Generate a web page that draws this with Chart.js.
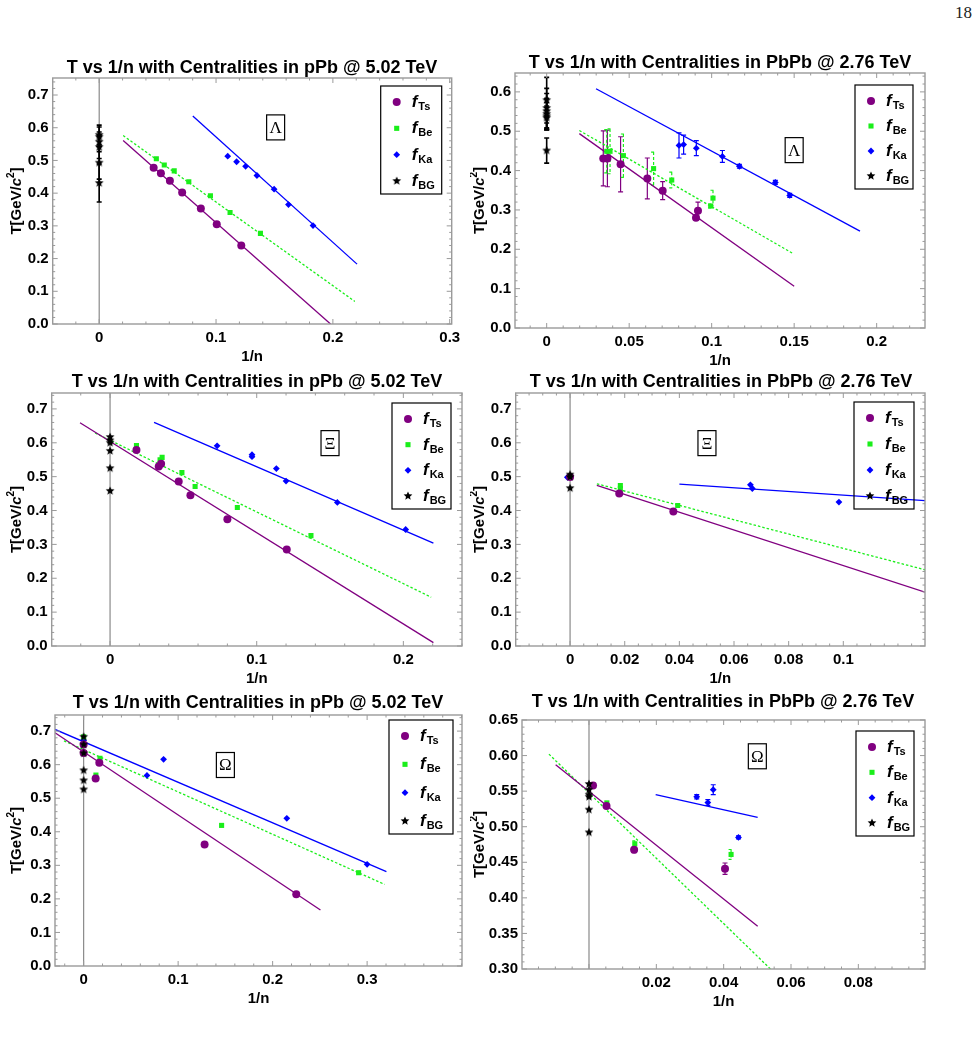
<!DOCTYPE html>
<html>
<head>
<meta charset="utf-8">
<script src="https://cdn.jsdelivr.net/npm/chart.js@4.4.1/dist/chart.umd.min.js"></script>
<style>
  body { margin: 0; background: #fff; width: 980px; height: 1040px; position: relative; overflow: hidden; }
  .cell { position: absolute; }
  #pg { position: absolute; left: 955px; top: 3px; font: 17px "Liberation Serif", "DejaVu Serif", serif; color: #222; }
</style>
</head>
<body>
<div id="pg">18</div>
<div class="cell" style="left:0px;top:40px;width:470px;height:326px"><canvas id="c1"></canvas></div>
<div class="cell" style="left:470px;top:40px;width:510px;height:326px"><canvas id="c2"></canvas></div>
<div class="cell" style="left:0px;top:366px;width:470px;height:324px"><canvas id="c3"></canvas></div>
<div class="cell" style="left:470px;top:366px;width:510px;height:324px"><canvas id="c4"></canvas></div>
<div class="cell" style="left:0px;top:688px;width:470px;height:342px"><canvas id="c5"></canvas></div>
<div class="cell" style="left:470px;top:688px;width:510px;height:342px"><canvas id="c6"></canvas></div>
<script>
// points are [1/n, T] or [1/n, T, error]
// Lambda, pPb 5.02 TeV
var P1_TS = [[0.0466, 0.478], [0.0528, 0.461], [0.0605, 0.438], [0.071, 0.402], [0.087, 0.353], [0.1006, 0.305], [0.1216, 0.240]];
var P1_BE = [[0.0489, 0.505], [0.0557, 0.486], [0.0642, 0.468], [0.0767, 0.435], [0.0952, 0.392], [0.112, 0.341], [0.138, 0.277]];
var P1_KA = [[0.110, 0.513], [0.1176, 0.496], [0.1253, 0.482], [0.135, 0.454], [0.1497, 0.412], [0.162, 0.365], [0.183, 0.301]];
var P1_BG = [[0, 0.578, 0.03], [0, 0.572, 0.03], [0, 0.557, 0.03], [0, 0.541, 0.035], [0, 0.493, 0.05], [0, 0.431, 0.058]];
var P1_FIT_TS = [[0.0205, 0.561], [0.198, 0.0]];
var P1_FIT_BE = [[0.0205, 0.576], [0.2188, 0.069]];
var P1_FIT_KA = [[0.0801, 0.636], [0.2207, 0.183]];
var P1_XTICKS = [0, 0.1, 0.2, 0.3];
var P1_YTICKS = [0, 0.1, 0.2, 0.3, 0.4, 0.5, 0.6, 0.7];

// Lambda, PbPb 2.76 TeV
var P2_TS = [[0.0343, 0.431, 0.07], [0.0368, 0.431, 0.072], [0.0448, 0.416, 0.07], [0.061, 0.380, 0.052], [0.0703, 0.349, 0.023], [0.0905, 0.280, 0.005], [0.0917, 0.298, 0.022]];
var P2_BE = [[0.0364, 0.449, 0.055], [0.0384, 0.449, 0.057], [0.0465, 0.438, 0.055], [0.0648, 0.405, 0.042], [0.0758, 0.376, 0.02], [0.0994, 0.310, 0.005], [0.1008, 0.330, 0.02]];
var P2_KA = [[0.0802, 0.464, 0.032], [0.083, 0.466, 0.024], [0.0907, 0.457, 0.019], [0.1065, 0.436, 0.015], [0.1168, 0.411, 0.005], [0.1386, 0.370, 0.005], [0.1473, 0.337, 0.005]];
var P2_BG = [[0, 0.579, 0.058], [0, 0.559, 0.05], [0, 0.551, 0.045], [0, 0.544, 0.04], [0, 0.538, 0.035], [0, 0.534, 0.03], [0, 0.451, 0.032]];
var P2_FIT_TS = [[0.0198, 0.494], [0.150, 0.106]];
var P2_FIT_BE = [[0.0198, 0.502], [0.149, 0.190]];
var P2_FIT_KA = [[0.0299, 0.608], [0.1899, 0.246]];
var P2_XTICKS = [0, 0.05, 0.1, 0.15, 0.2];
var P2_YTICKS = [0, 0.1, 0.2, 0.3, 0.4, 0.5, 0.6];

// Xi, pPb 5.02 TeV
var P3_TS = [[0.018, 0.579], [0.0332, 0.530], [0.0348, 0.538], [0.0468, 0.486], [0.0548, 0.445], [0.080, 0.374], [0.1205, 0.285]];
var P3_BE = [[0.018, 0.592], [0.0341, 0.550], [0.0355, 0.557], [0.049, 0.512], [0.058, 0.471], [0.0868, 0.409], [0.137, 0.326]];
var P3_KA = [[0.073, 0.591], [0.0968, 0.565], [0.0968, 0.559], [0.1134, 0.524], [0.120, 0.487], [0.155, 0.424], [0.2016, 0.344]];
var P3_BG = [[0, 0.617], [0, 0.607], [0, 0.600], [0, 0.576], [0, 0.525], [0, 0.458]];
var P3_FIT_TS = [[-0.0205, 0.659], [0.2205, 0.010]];
var P3_FIT_BE = [[-0.0102, 0.629], [0.219, 0.144]];
var P3_FIT_KA = [[0.030, 0.660], [0.2205, 0.304]];
var P3_XTICKS = [0, 0.1, 0.2];
var P3_YTICKS = [0, 0.1, 0.2, 0.3, 0.4, 0.5, 0.6, 0.7];

// Xi, PbPb 2.76 TeV
var P4_TS = [[0, 0.499], [0.018, 0.4506], [0.0378, 0.397]];
var P4_BE = [[0, 0.502], [0.0184, 0.474], [0.0184, 0.464], [0.0394, 0.415]];
var P4_KA = [[-0.001, 0.498], [0.066, 0.476], [0.0667, 0.465], [0.0984, 0.425]];
var P4_BG = [[0, 0.506], [0, 0.499], [0, 0.466]];
var P4_FIT_TS = [[0.0098, 0.474], [0.1299, 0.159]];
var P4_FIT_BE = [[0.0098, 0.479], [0.1299, 0.225]];
var P4_FIT_KA = [[0.040, 0.478], [0.1299, 0.429]];
var P4_XTICKS = [0, 0.02, 0.04, 0.06, 0.08, 0.1];
var P4_YTICKS = [0, 0.1, 0.2, 0.3, 0.4, 0.5, 0.6, 0.7];

// Omega, pPb 5.02 TeV
var P5_TS = [[0, 0.660], [0, 0.635], [0.0127, 0.559], [0.0166, 0.606], [0.128, 0.362], [0.225, 0.2135]];
var P5_BE = [[0, 0.683], [0.013, 0.569], [0.0173, 0.619], [0.146, 0.419], [0.291, 0.278]];
var P5_KA = [[0, 0.673], [0.067, 0.568], [0.0846, 0.616], [0.215, 0.440], [0.300, 0.303]];
var P5_BG = [[0, 0.683], [0, 0.660], [0, 0.634], [0, 0.583], [0, 0.553], [0, 0.526]];
var P5_FIT_TS = [[-0.0303, 0.695], [0.2506, 0.167]];
var P5_FIT_BE = [[-0.0208, 0.671], [0.3186, 0.243]];
var P5_FIT_KA = [[-0.0303, 0.705], [0.3204, 0.281]];
var P5_XTICKS = [0, 0.1, 0.2, 0.3];
var P5_YTICKS = [0, 0.1, 0.2, 0.3, 0.4, 0.5, 0.6, 0.7];

// Omega, PbPb 2.76 TeV
var P6_TS = [[0.0012, 0.558], [0.0052, 0.529], [0.0134, 0.4675, 0.004], [0.0404, 0.441, 0.008]];
var P6_BE = [[0.0012, 0.559], [0.0053, 0.5335], [0.0136, 0.476, 0.004], [0.0422, 0.461, 0.007]];
var P6_KA = [[0.032, 0.542, 0.003], [0.0353, 0.534, 0.004], [0.0369, 0.552, 0.007], [0.0444, 0.485, 0.002]];
var P6_BG = [[0, 0.560], [0, 0.552], [0, 0.545], [0, 0.542], [0, 0.524], [0, 0.492]];
var P6_FIT_TS = [[-0.0099, 0.587], [0.0501, 0.360]];
var P6_FIT_BE = [[-0.0119, 0.602], [0.0539, 0.300]];
var P6_FIT_KA = [[0.0198, 0.545], [0.0501, 0.513]];
var P6_XTICKS = [0, 0.02, 0.04, 0.06, 0.08];
var P6_YTICKS = [0.30, 0.35, 0.40, 0.45, 0.50, 0.55, 0.60, 0.65];

var PURPLE = "#800080";
var GREEN = "#1aee1a";
var BLUE = "#0000ff";
var FONT = '"Liberation Sans", Arial, sans-serif';
var TITLE_PPB = "T vs 1/n with Centralities in pPb @ 5.02 TeV";
var TITLE_PBPB = "T vs 1/n with Centralities in PbPb @ 2.76 TeV";

function starImage(r) {
  var c = document.createElement("canvas");
  var s = Math.ceil(r * 2 + 2);
  c.width = s;
  c.height = s;
  var g = c.getContext("2d");
  g.fillStyle = "#000";
  g.beginPath();
  for (var k = 0; k < 10; k++) {
    var rad = k % 2 === 0 ? r : r * 0.45;
    var ang = -Math.PI / 2 + k * Math.PI / 5;
    var px = s / 2 + rad * Math.cos(ang), py = s / 2 + rad * Math.sin(ang);
    if (k) g.lineTo(px, py); else g.moveTo(px, py);
  }
  g.closePath();
  g.fill();
  return c;
}
var STAR = starImage(4.6);

var SERIES = [
  { key: "ts", name: "Ts", color: PURPLE, style: "circle", r: 4, dash: [] },
  { key: "be", name: "Be", color: GREEN, style: "rect", r: 3.6, dash: [3, 2] },
  { key: "ka", name: "Ka", color: BLUE, style: "rectRot", r: 3.4, dash: [] },
  { key: "bg", name: "BG", color: "#000", style: STAR, r: 4.6, dash: [] }
];

var PANELS = [
  { id: "c1", title: TITLE_PPB, sym: "\u039B", symAt: [0.151, 0.601], zero: true,
    ts: P1_TS, be: P1_BE, ka: P1_KA, bg: P1_BG, fits: [P1_FIT_TS, P1_FIT_BE, P1_FIT_KA],
    xr: [-0.0398, 0.3017], yr: [0, 0.752], xt: P1_XTICKS, yt: P1_YTICKS, xMinor: 5, yMinor: 5, yDec: 1,
    box: { yw: 52.7, xh: 42, top: 38, right: 18.3 }, titleAt: [252, 28], yTitleX: 17, leg: [10, 8, 61, 108] },
  { id: "c2", title: TITLE_PBPB, sym: "\u039B", symAt: [0.150, 0.452], zero: false,
    ts: P2_TS, be: P2_BE, ka: P2_KA, bg: P2_BG, fits: [P2_FIT_TS, P2_FIT_BE, P2_FIT_KA],
    xr: [-0.0192, 0.2293], yr: [0, 0.648], xt: P2_XTICKS, yt: P2_YTICKS, xMinor: 5, yMinor: 5, yDec: 1,
    box: { yw: 45, xh: 38, top: 33, right: 55 }, titleAt: [250, 23], yTitleX: 10, leg: [12, 12, 58, 104] },
  { id: "c3", title: TITLE_PPB, sym: "\u039E", symAt: [0.150, 0.599], zero: true,
    ts: P3_TS, be: P3_BE, ka: P3_KA, bg: P3_BG, fits: [P3_FIT_TS, P3_FIT_BE, P3_FIT_KA],
    xr: [-0.0398, 0.240], yr: [0, 0.747], xt: P3_XTICKS, yt: P3_YTICKS, xMinor: 5, yMinor: 5, yDec: 1,
    box: { yw: 51.7, xh: 44, top: 27, right: 8 }, titleAt: [257, 16], yTitleX: 17, leg: [11, 10, 59, 106] },
  { id: "c4", title: TITLE_PBPB, sym: "\u039E", symAt: [0.0501, 0.599], zero: true,
    ts: P4_TS, be: P4_BE, ka: P4_KA, bg: P4_BG, fits: [P4_FIT_TS, P4_FIT_BE, P4_FIT_KA],
    xr: [-0.0199, 0.1299], yr: [0, 0.747], xt: P4_XTICKS, yt: P4_YTICKS, xMinor: 4, yMinor: 5, yDec: 1,
    box: { yw: 45.7, xh: 44, top: 27, right: 55 }, titleAt: [251, 16], yTitleX: 10, leg: [11, 9, 60, 107] },
  { id: "c5", title: TITLE_PPB, sym: "\u03A9", symAt: [0.150, 0.599], zero: true,
    ts: P5_TS, be: P5_BE, ka: P5_KA, bg: P5_BG, fits: [P5_FIT_TS, P5_FIT_BE, P5_FIT_KA],
    xr: [-0.0303, 0.4004], yr: [0, 0.748], xt: P5_XTICKS, yt: P5_YTICKS, xMinor: 5, yMinor: 5, yDec: 1,
    box: { yw: 55, xh: 64, top: 27, right: 8 }, titleAt: [258, 15], yTitleX: 17, leg: [9, 5, 64, 114] },
  { id: "c6", title: TITLE_PBPB, sym: "\u03A9", symAt: [0.050, 0.599], zero: true, hideZero: true,
    ts: P6_TS, be: P6_BE, ka: P6_KA, bg: P6_BG, fits: [P6_FIT_TS, P6_FIT_BE, P6_FIT_KA],
    xr: [-0.0199, 0.0998], yr: [0.30, 0.65], xt: P6_XTICKS, yt: P6_YTICKS, xMinor: 4, yMinor: 5, yDec: 2,
    box: { yw: 52, xh: 61, top: 32, right: 55 }, titleAt: [253, 14], yTitleX: 10, leg: [11, 11, 58, 105] }
];

function toPts(arr) {
  return arr.map(function (p) { return { x: p[0], y: p[1], e: p[2] || 0 }; });
}

function minors(range, majors, n) {
  var step = (majors[1] - majors[0]) / n;
  var out = [];
  for (var k = Math.ceil(range[0] / step); k <= Math.floor(range[1] / step); k++) {
    var v = k * step;
    var isMajor = majors.some(function (m) { return Math.abs(m - v) < step / 10; });
    if (!isMajor) out.push(v);
  }
  return out;
}

function drawMarker(ctx, s, x, y) {
  ctx.fillStyle = s.color;
  Chart.helpers.drawPoint(ctx, { pointStyle: s.style, radius: s.r, rotation: 0, borderWidth: 0 }, x, y);
}

var decor = {
  id: "decor",
  beforeDatasetsDraw: function (chart, args, p) {
    var ctx = chart.ctx, a = chart.chartArea, xs = chart.scales.x, ys = chart.scales.y;
    ctx.save();
    if (p.zero) {
      ctx.strokeStyle = "#8a8a8a";
      ctx.lineWidth = 1.2;
      var x0 = xs.getPixelForValue(0);
      ctx.beginPath();
      ctx.moveTo(x0, a.top);
      ctx.lineTo(x0, a.bottom);
      ctx.stroke();
    }
    // error bars
    chart.data.datasets.forEach(function (ds, i) {
      if (!ds.errBars) return;
      ctx.strokeStyle = ds.borderColor;
      ctx.lineWidth = ds.errColor === "#000" ? 1.6 : 1.2;
      ctx.setLineDash(ds.errDash);
      ds.data.forEach(function (pt) {
        if (!pt.e) return;
        var px = xs.getPixelForValue(pt.x);
        var y1 = ys.getPixelForValue(pt.y + pt.e), y2 = ys.getPixelForValue(pt.y - pt.e);
        ctx.beginPath();
        ctx.moveTo(px, y1); ctx.lineTo(px, y2);
        ctx.moveTo(px - 2.5, y1); ctx.lineTo(px + 2.5, y1);
        ctx.moveTo(px - 2.5, y2); ctx.lineTo(px + 2.5, y2);
        ctx.stroke();
      });
      ctx.setLineDash([]);
    });
    ctx.restore();
  },
  afterDatasetsDraw: function (chart, args, p) {
    var ctx = chart.ctx, a = chart.chartArea, xs = chart.scales.x, ys = chart.scales.y;
    ctx.save();
    // frame with inward ticks
    ctx.strokeStyle = "#9a9a9a";
    ctx.lineWidth = 1.4;
    ctx.strokeRect(a.left, a.top, a.right - a.left, a.bottom - a.top);
    ctx.lineWidth = 1;
    function xTick(v, len) {
      var px = xs.getPixelForValue(v);
      ctx.moveTo(px, a.bottom); ctx.lineTo(px, a.bottom - len);
      ctx.moveTo(px, a.top); ctx.lineTo(px, a.top + len);
    }
    function yTick(v, len) {
      var py = ys.getPixelForValue(v);
      ctx.moveTo(a.left, py); ctx.lineTo(a.left + len, py);
      ctx.moveTo(a.right, py); ctx.lineTo(a.right - len, py);
    }
    ctx.beginPath();
    p.xt.forEach(function (v) { xTick(v, 5); });
    minors(p.xr, p.xt, p.xMinor).forEach(function (v) { xTick(v, 2.5); });
    p.yt.forEach(function (v) { yTick(v, 5); });
    minors(p.yr, p.yt, p.yMinor).forEach(function (v) { yTick(v, 2.5); });
    ctx.stroke();

    // particle label box
    var cx = xs.getPixelForValue(p.symAt[0]), cy = ys.getPixelForValue(p.symAt[1]);
    ctx.fillStyle = "#fff";
    ctx.fillRect(cx - 9, cy - 12.5, 18, 25);
    ctx.strokeStyle = "#000";
    ctx.lineWidth = 1.2;
    ctx.strokeRect(cx - 9, cy - 12.5, 18, 25);
    ctx.fillStyle = "#000";
    ctx.font = '17px "Liberation Serif", "DejaVu Serif", serif';
    ctx.textAlign = "center";
    ctx.textBaseline = "middle";
    ctx.fillText(p.sym, cx, cy + 1);

    // legend
    var lw = p.leg[2], lh = p.leg[3];
    var lx = a.right - p.leg[0] - lw, ly = a.top + p.leg[1];
    ctx.strokeStyle = "#000";
    ctx.lineWidth = 1.2;
    ctx.strokeRect(lx, ly, lw, lh);
    var gap = (lh - 29) / 3;
    ctx.textAlign = "left";
    ctx.textBaseline = "alphabetic";
    SERIES.forEach(function (s, i) {
      var ry = ly + 16 + i * gap;
      drawMarker(ctx, s, lx + 16, ry);
      ctx.fillStyle = "#000";
      ctx.font = "italic bold 17px " + FONT;
      ctx.fillText("f", lx + 31, ry + 5);
      var fw = ctx.measureText("f").width;
      ctx.font = "bold 11px " + FONT;
      ctx.fillText(s.name, lx + 31 + fw + 1, ry + 8);
    });
    ctx.restore();
  },
  afterDraw: function (chart, args, p) {
    var ctx = chart.ctx, a = chart.chartArea;
    ctx.save();
    ctx.fillStyle = "#000";
    ctx.textBaseline = "middle";
    ctx.textAlign = "center";
    ctx.font = "bold 18px " + FONT;
    ctx.fillText(p.title, p.titleAt[0], p.titleAt[1]);
    ctx.font = "bold 15px " + FONT;
    ctx.fillText("1/n", (a.left + a.right) / 2, a.bottom + 33);

    // y title T[GeV/c^2], rotated
    var parts = [
      { t: "T[GeV/", f: "bold 15px " + FONT, dy: 0 },
      { t: "c", f: "italic bold 15px " + FONT, dy: 0 },
      { t: "2", f: "bold 10px " + FONT, dy: -6 },
      { t: "]", f: "bold 15px " + FONT, dy: 0 }
    ];
    var total = 0;
    parts.forEach(function (q) { ctx.font = q.f; q.w = ctx.measureText(q.t).width; total += q.w; });
    ctx.translate(p.yTitleX, (a.top + a.bottom) / 2);
    ctx.rotate(-Math.PI / 2);
    ctx.textAlign = "left";
    var cx = -total / 2;
    parts.forEach(function (q) {
      ctx.font = q.f;
      ctx.fillText(q.t, cx, q.dy);
      cx += q.w;
    });
    ctx.restore();
  }
};

function makePanel(p) {
  var datasets = [];
  SERIES.forEach(function (s) {
    datasets.push({
      data: toPts(p[s.key]),
      backgroundColor: s.color,
      borderColor: s.color,
      borderWidth: 0,
      pointStyle: s.style,
      pointRadius: s.r,
      errBars: true,
      errColor: s.color,
      errDash: s.dash,
      order: s.key === "bg" ? 0 : 1
    });
  });
  p.fits.forEach(function (f, i) {
    var s = SERIES[i];
    datasets.push({
      data: toPts(f),
      showLine: true,
      borderColor: s.color,
      borderWidth: 1.3,
      borderDash: s.key === "be" ? [2.5, 2] : [],
      pointRadius: 0,
      fill: false,
      order: 5
    });
  });
  var tickFont = { family: FONT, size: 15, weight: "bold" };
  new Chart(document.getElementById(p.id).getContext("2d"), {
    type: "scatter",
    data: { datasets: datasets },
    options: {
      responsive: true,
      maintainAspectRatio: false,
      animation: false,
      events: [],
      layout: { padding: { top: p.box.top, right: p.box.right, left: 0, bottom: 0 } },
      plugins: { legend: { display: false }, title: { display: false }, tooltip: { enabled: false }, decor: p },
      scales: {
        x: {
          type: "linear", min: p.xr[0], max: p.xr[1],
          grid: { display: false, drawTicks: false }, border: { display: false },
          afterBuildTicks: function (sc) { sc.ticks = p.xt.map(function (v) { return { value: v }; }); },
          afterFit: function (sc) { sc.height = p.box.xh; },
          ticks: {
            autoSkip: false, maxRotation: 0, padding: 5, color: "#000", font: tickFont,
            callback: function (v) { return v === 0 ? (p.hideZero ? "" : "0") : String(parseFloat(v.toFixed(4))); }
          }
        },
        y: {
          type: "linear", min: p.yr[0], max: p.yr[1],
          grid: { display: false, drawTicks: false }, border: { display: false },
          afterBuildTicks: function (sc) { sc.ticks = p.yt.map(function (v) { return { value: v }; }); },
          afterFit: function (sc) { sc.width = p.box.yw; },
          ticks: {
            autoSkip: false, padding: 4, color: "#000", font: tickFont,
            callback: function (v) { return v.toFixed(p.yDec); }
          }
        }
      }
    },
    plugins: [decor]
  });
}

PANELS.forEach(makePanel);
</script>
</body>
</html>
